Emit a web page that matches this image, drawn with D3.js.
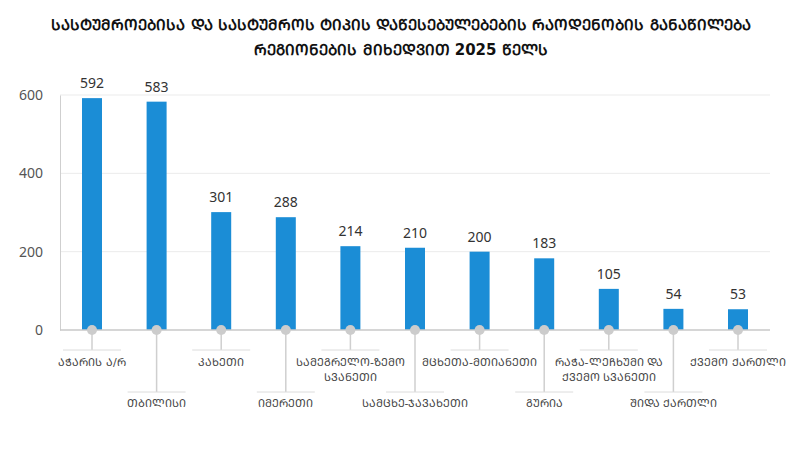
<!DOCTYPE html>
<html lang="ka">
<head>
    <meta charset="UTF-8">
    <title>სასტუმროები რეგიონების მიხედვით</title>
    <script src="https://cdn.jsdelivr.net/npm/d3@7"></script>
    <style>
        body { margin: 0; background: #fff; }
    </style>
</head>
<body>
<script>
    // data
    var categories = ["აჭარის ა/რ", "თბილისი", "კახეთი", "იმერეთი", "სამეგრელო-ზემო\nსვანეთი",
        "სამცხე-ჯავახეთი", "მცხეთა-მთიანეთი", "გურია", "რაჭა-ლეჩხუმი და\nქვემო სვანეთი",
        "შიდა ქართლი", "ქვემო ქართლი"];
    var values = [592, 583, 301, 288, 214, 210, 200, 183, 105, 54, 53];
    var yTicks = [0, 200, 400, 600];
    var titleLines = ["სასტუმროებისა და სასტუმროს ტიპის დაწესებულებების რაოდენობის განაწილება",
        "რეგიონების მიხედვით 2025 წელს"];

    var width = 800, height = 450;
    var left = 60, right = 770, zeroY = 330, topY = 95;
    var barW = 20;
    var geoFont = "'DejaVu Sans', 'Noto Sans', sans-serif";

    // mkhedruli -> mtavruli (the picture uses capital letters)
    function caps(s) {
        return s.replace(/[\u10D0-\u10FA]/g, function (c) {
            return String.fromCharCode(c.charCodeAt(0) + 0x0BC0);
        });
    }

    var svg = d3.select("body").append("svg")
        .attr("width", width)
        .attr("height", height);

    var x = d3.scalePoint()
        .domain(categories)
        .range([92, 738]);

    var y = d3.scaleLinear()
        .domain([0, 600])
        .range([zeroY, topY]);

    // title
    svg.append("g").selectAll("text")
        .data(titleLines)
        .enter()
        .append("text")
        .attr("x", 401)
        .attr("y", function (d, i) { return 30 + i * 25; })
        .attr("text-anchor", "middle")
        .attr("font-family", geoFont)
        .attr("font-weight", "bold")
        .attr("font-size", "15px")
        .attr("fill", "#111")
        .text(function (d) { return caps(d); });

    // grid
    svg.append("g").selectAll("line")
        .data(yTicks.filter(function (d) { return d > 0; }))
        .enter()
        .append("line")
        .attr("x1", left).attr("x2", right)
        .attr("y1", function (d) { return y(d); })
        .attr("y2", function (d) { return y(d); })
        .attr("stroke", "#ebebeb");

    // y axis
    var gY = svg.append("g")
        .attr("transform", "translate(" + left + ",0)")
        .call(d3.axisLeft(y).tickValues(yTicks).tickSize(0).tickPadding(17));
    gY.select(".domain").attr("stroke", "#cfcfcf");
    gY.selectAll("text")
        .attr("font-family", "'Noto Sans', sans-serif")
        .attr("font-size", "14px")
        .attr("fill", "#555");

    // bars
    svg.append("g").selectAll("rect")
        .data(values)
        .enter()
        .append("rect")
        .attr("x", function (d, i) { return x(categories[i]) - barW / 2; })
        .attr("y", function (d) { return y(d); })
        .attr("width", barW)
        .attr("height", function (d) { return zeroY - y(d); })
        .attr("fill", "#1b8dd6");

    // value labels
    svg.append("g").selectAll("text")
        .data(values)
        .enter()
        .append("text")
        .attr("x", function (d, i) { return x(categories[i]); })
        .attr("y", function (d) { return y(d) - 10; })
        .attr("text-anchor", "middle")
        .attr("font-family", "'Noto Sans', sans-serif")
        .attr("font-size", "14px")
        .attr("fill", "#333")
        .text(function (d) { return d; });

    // x baseline
    svg.append("line")
        .attr("x1", left).attr("x2", right)
        .attr("y1", zeroY).attr("y2", zeroY)
        .attr("stroke", "#c8c8c8")
        .attr("stroke-width", 1.5);

    // leaders + labels
    var lab = svg.append("g").selectAll("g")
        .data(categories)
        .enter()
        .append("g")
        .attr("transform", function (d) { return "translate(" + x(d) + ",0)"; });

    lab.append("line")
        .attr("x1", 0).attr("x2", 0)
        .attr("y1", zeroY)
        .attr("y2", function (d, i) { return i % 2 ? 392 : 350; })
        .attr("stroke", "#cfcfcf")
        .attr("stroke-width", 1.5);

    lab.append("line")
        .attr("x1", -29).attr("x2", 29)
        .attr("y1", function (d, i) { return i % 2 ? 392 : 350; })
        .attr("y2", function (d, i) { return i % 2 ? 392 : 350; })
        .attr("stroke", "#dcdcdc");

    lab.append("circle")
        .attr("cx", 0).attr("cy", zeroY)
        .attr("r", 5)
        .attr("fill", "#cccccc");

    lab.append("text")
        .attr("text-anchor", "middle")
        .attr("font-family", geoFont)
        .attr("font-size", "11px")
        .attr("fill", "#444")
        .attr("y", function (d, i) { return i % 2 ? 407 : 366; })
        .selectAll("tspan")
        .data(function (d) { return d.split("\n"); })
        .enter()
        .append("tspan")
        .attr("x", 0)
        .attr("dy", function (d, i) { return i ? 15 : 0; })
        .text(function (d) { return caps(d); });
</script>
</body>
</html>
